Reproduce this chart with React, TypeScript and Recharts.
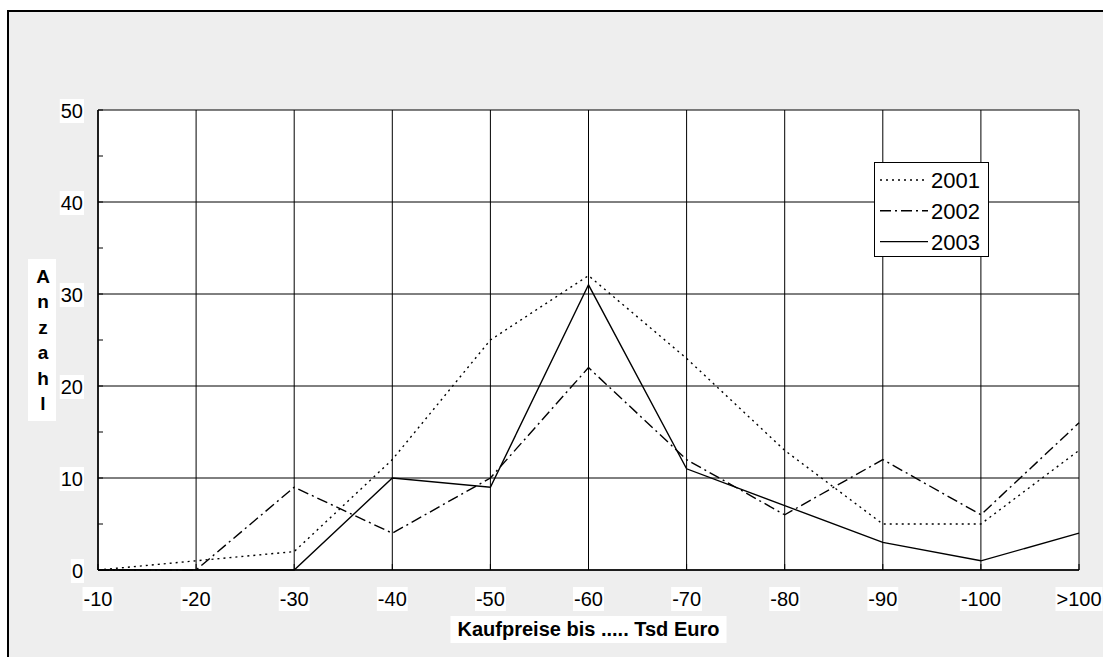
import React from 'react';
import { LineChart, Line, XAxis, YAxis, CartesianGrid, ReferenceLine, Legend } from 'recharts';

// Purchase price brackets (thousand euro)
const categories = ['-10', '-20', '-30', '-40', '-50', '-60', '-70', '-80', '-90', '-100', '>100'];

// Number of sales per bracket and year
const values2001 = [0, 1, 2, 12, 25, 32, 23, 13, 5, 5, 13];
const values2002 = [0, 0, 9, 4, 10, 22, 12, 6, 12, 6, 16];
const values2003 = [0, 0, 0, 10, 9, 31, 11, 7, 3, 1, 4];

const yMajorTicks = [0, 10, 20, 30, 40, 50];
const yAllTicks = [0, 5, 10, 15, 20, 25, 30, 35, 40, 45, 50];

const series = [
  { key: 'y2001', name: '2001', dash: '2 4' },
  { key: 'y2002', name: '2002', dash: '11 4 2 4' },
  { key: 'y2003', name: '2003', dash: undefined as string | undefined },
];

const data = categories.map((cat, i) => ({
  cat,
  y2001: values2001[i],
  y2002: values2002[i],
  y2003: values2003[i],
}));

const FONT = '"Liberation Sans", Arial, Helvetica, sans-serif';
const FS = 20;

// rough advance widths of Liberation Sans at 20px
const textWidth = (s: string) =>
  s.split('').reduce((w, ch) => {
    if (ch === '-') return w + 6.66;
    if (ch === '>') return w + 11.68;
    return w + 11.12;
  }, 0);

function XTick(props: any) {
  const { x, y, payload } = props;
  const label = String(payload.value);
  const w = textWidth(label) + 2;
  return (
    <g>
      <line x1={x} x2={x} y1={y} y2={y - 6} stroke="#000" strokeWidth={1} />
      <rect x={x - w / 2} y={y + 17} width={w} height={24} fill="#fff" />
      <text x={x} y={y + 36} textAnchor="middle" fontSize={FS} fontFamily={FONT} fill="#000">
        {label}
      </text>
    </g>
  );
}

function YTick(props: any) {
  const { x, y, payload } = props;
  const v = Number(payload.value);
  const isMajor = v % 10 === 0;
  const label = String(v);
  const w = textWidth(label) + 2;
  const right = x - 15;
  return (
    <g>
      <line x1={x} x2={x + 5} y1={y} y2={y} stroke="#000" strokeWidth={1} />
      {isMajor && (
        <>
          <rect x={right - w + 1} y={y - 11} width={w} height={24} fill="#fff" />
          <text x={right} y={y + 8} textAnchor="end" fontSize={FS} fontFamily={FONT} fill="#000">
            {label}
          </text>
        </>
      )}
    </g>
  );
}

function XTitle(props: any) {
  const vb = props.viewBox || { x: 89, y: 558, width: 981, height: 89 };
  const cx = vb.x + vb.width / 2;
  const text = 'Kaufpreise bis ..... Tsd Euro';
  const w = 276;
  return (
    <g>
      <rect x={cx - w / 2} y={vb.y + 46} width={w} height={27} fill="#fff" />
      <text
        x={cx}
        y={vb.y + 66}
        textAnchor="middle"
        fontSize={FS}
        fontWeight="bold"
        fontFamily={FONT}
        fill="#000"
      >
        {text}
      </text>
    </g>
  );
}

function YTitle() {
  const letters = 'Anzahl'.split('');
  return (
    <g>
      <rect x={19} y={247} width={28} height={162} fill="#fff" />
      {letters.map((ch, i) => (
        <text
          key={i}
          x={34}
          y={271 + i * 25.4}
          textAnchor="middle"
          fontSize={19}
          fontWeight="bold"
          fontFamily={FONT}
          fill="#000"
        >
          {ch}
        </text>
      ))}
    </g>
  );
}

function LegendBox() {
  return (
    <div
      style={{
        width: 115,
        height: 95,
        boxSizing: 'border-box',
        border: '1px solid #000',
        background: '#fff',
      }}
    >
      <svg width={113} height={93} style={{ display: 'block' }}>
        {series.map((s, i) => {
          const cy = 17 + i * 30.8;
          return (
            <g key={s.key}>
              <line
                x1={5}
                x2={53}
                y1={cy}
                y2={cy}
                stroke="#000"
                strokeWidth={1.4}
                strokeDasharray={s.dash}
              />
              <text x={56} y={cy + 8} fontSize={22} fontFamily={FONT} fill="#000">
                {s.name}
              </text>
            </g>
          );
        })}
      </svg>
    </div>
  );
}

export default function App() {
  return (
    <div
      style={{
        position: 'fixed',
        left: 7,
        top: 10,
        width: 1096,
        height: 647,
        background: '#eeeeee',
        borderLeft: '2px solid #000',
        borderTop: '2px solid #000',
        fontFamily: FONT,
        overflow: 'hidden',
      }}
    >
      <LineChart
        width={1094}
        height={647}
        data={data}
        margin={{ top: 98, right: 24, bottom: 0, left: 0 }}
      >
        <CartesianGrid vertical horizontal={false} stroke="#000" strokeWidth={1} fill="#fff" />
        {yMajorTicks.map((v) => (
          <ReferenceLine key={v} y={v} stroke="#000" strokeWidth={1} />
        ))}
        <XAxis
          dataKey="cat"
          scale="point"
          padding={{ left: 0, right: 0 }}
          interval={0}
          height={89}
          tickSize={0}
          tickMargin={0}
          tickLine={false}
          axisLine={{ stroke: '#000', strokeWidth: 1.5 }}
          tick={<XTick />}
          label={(p: any) => <XTitle {...p} />}
        />
        <YAxis
          type="number"
          domain={[0, 50]}
          ticks={yAllTicks}
          interval={0}
          width={89}
          tickSize={0}
          tickMargin={0}
          tickLine={false}
          axisLine={{ stroke: '#000', strokeWidth: 1.5 }}
          tick={<YTick />}
          label={() => <YTitle />}
        />
        <Legend
          layout="vertical"
          align="center"
          verticalAlign="middle"
          wrapperStyle={{ left: 865, top: 150, width: 115, height: 95 }}
          content={() => <LegendBox />}
        />
        {series.map((s) => (
          <Line
            key={s.key}
            type="linear"
            dataKey={s.key}
            name={s.name}
            stroke="#000"
            strokeWidth={1.4}
            strokeDasharray={s.dash}
            dot={false}
            activeDot={false}
            isAnimationActive={false}
          />
        ))}
      </LineChart>
    </div>
  );
}
